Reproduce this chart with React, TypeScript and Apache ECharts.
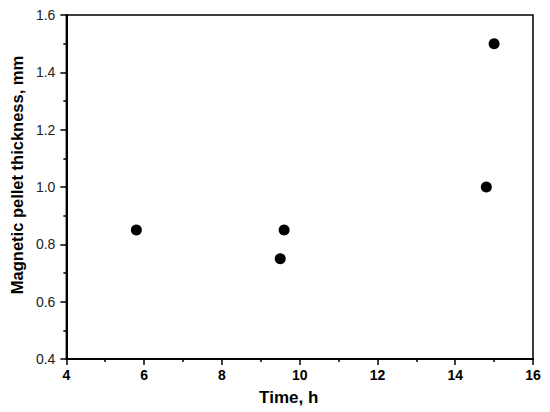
import React, { useEffect, useRef } from "react";
import * as echarts from "echarts";

const timeH = [5.8, 9.5, 9.6, 14.8, 15.0];
const thicknessMm = [0.85, 0.75, 0.85, 1.0, 1.5];
const xName = "Time, h";
const yName = "Magnetic pellet thickness, mm";

export default function App() {
  const ref = useRef<HTMLDivElement>(null);
  useEffect(() => {
    if (!ref.current) return;
    const chart = echarts.init(ref.current, undefined, { renderer: "svg" });
    const data = timeH.map((t, i) => [t, thicknessMm[i]]);
    chart.setOption({
      animation: false,
      backgroundColor: "#fff",
      grid: {
        left: 65,
        top: 15,
        right: 17,
        bottom: 53,
        show: true,
        borderColor: "#000",
        borderWidth: 1.5,
        backgroundColor: "transparent",
      },
      xAxis: {
        type: "value",
        min: 4,
        max: 16,
        interval: 2,
        name: xName,
        nameLocation: "middle",
        nameGap: 30,
        nameTextStyle: {
          fontFamily: "Liberation Sans",
          fontWeight: "bold",
          fontSize: 17,
          color: "#000",
          padding: [0, 22, 0, 0],
        },
        axisLine: { show: true, onZero: false, lineStyle: { color: "#000", width: 2 } },
        axisTick: { show: true, inside: false, length: 6, lineStyle: { color: "#000", width: 1.5 } },
        minorTick: { show: true, splitNumber: 2, length: 3, lineStyle: { color: "#000", width: 1.5 } },
        axisLabel: {
          margin: 9,
          formatter: (v: number) => "{b|" + String(v) + "}",
          rich: {
            b: {
              fontFamily: "Liberation Sans",
              fontWeight: "bold",
              fontSize: 14,
              color: "#000",
            },
          },
        },
        splitLine: { show: false },
      },
      yAxis: {
        type: "value",
        min: 0.4,
        max: 1.6,
        interval: 0.2,
        name: yName,
        nameLocation: "middle",
        nameGap: 40,
        nameTextStyle: {
          fontFamily: "Liberation Sans",
          fontWeight: "bold",
          fontSize: 16.5,
          color: "#000",
          padding: [0, 0, 0, 24],
        },
        axisLine: { show: true, onZero: false, lineStyle: { color: "#000", width: 2 } },
        axisTick: { show: true, inside: false, length: 6, lineStyle: { color: "#000", width: 1.5 } },
        minorTick: { show: true, splitNumber: 2, length: 3, lineStyle: { color: "#000", width: 1.5 } },
        axisLabel: {
          fontFamily: "Liberation Sans",
          fontSize: 14,
          color: "#222",
          margin: 11,
          formatter: (v: number) => v.toFixed(1),
        },
        splitLine: { show: false },
      },
      series: [
        {
          type: "scatter",
          data,
          symbol: "circle",
          symbolSize: 11,
          itemStyle: { color: "#000", opacity: 1 },
        },
      ],
    });
    return () => chart.dispose();
  }, []);
  return <div ref={ref} style={{ width: 550, height: 412, position: "absolute", left: 0, top: 0 }} />;
}
